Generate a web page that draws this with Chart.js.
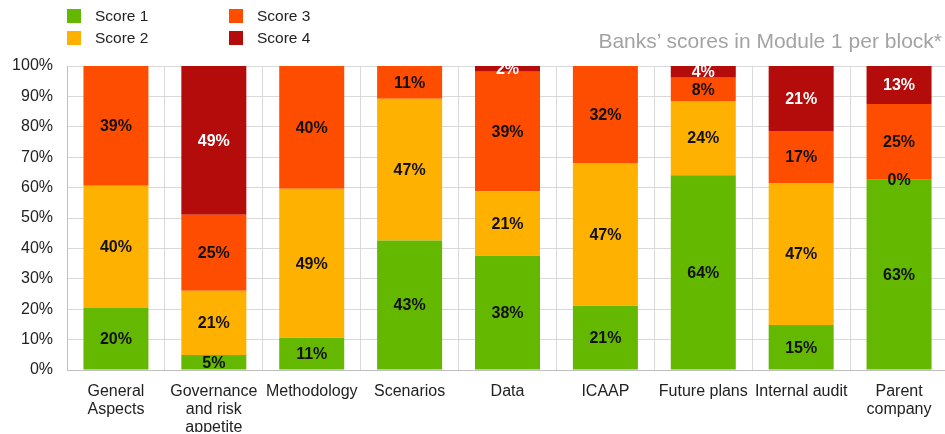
<!DOCTYPE html>
<html>
<head>
<meta charset="utf-8">
<script src="https://cdn.jsdelivr.net/npm/chart.js@4/dist/chart.umd.min.js"></script>
<style>
  html, body { margin: 0; padding: 0; background: #fff; overflow: hidden; }
  #wrap { position: relative; width: 945px; height: 434px; overflow: hidden; }
  #plot { position: absolute; left: 0; top: 0; width: 948px; height: 434px; }
  .legend { position: absolute; font: 15.5px "Liberation Sans", Arial, sans-serif; color: #222; }
  .legend .item { position: absolute; white-space: nowrap; height: 16px; line-height: 16px; }
  .legend .box { position: absolute; left: 0; top: 1px; width: 14px; height: 14px; }
  .legend .txt { position: absolute; left: 28px; top: 0; }
  #title { position: absolute; right: 3px; top: 29px; font: 21px/24px "Liberation Sans", Arial, sans-serif; color: #a3a3a3; white-space: nowrap; }
</style>
</head>
<body>
<div id="wrap">
  <div id="plot"><canvas id="chart"></canvas></div>
  <div class="legend" id="legend"></div>
  <div id="title">Banks’ scores in Module 1 per block*</div>
</div>
<script>
const categories = [
  ['General', 'Aspects'],
  ['Governance', 'and risk', 'appetite'],
  'Methodology',
  'Scenarios',
  'Data',
  'ICAAP',
  'Future plans',
  'Internal audit',
  ['Parent', 'company']
];
const score1 = [20.4, 4.9, 10.6, 42.6, 37.6, 21.1, 64.1, 14.8, 62.6];
const score2 = [40.2, 21.2, 49.0, 46.6, 21.2, 47.0, 24.4, 46.7, 0];
const score3 = [39.4, 25.0, 40.4, 10.8, 39.3, 31.9, 7.6, 17.1, 24.9];
const score4 = [0, 48.9, 0, 0, 1.9, 0, 3.9, 21.4, 12.5];
const yTicks = [0, 10, 20, 30, 40, 50, 60, 70, 80, 90, 100];

const seriesNames = ['Score 1', 'Score 2', 'Score 3', 'Score 4'];
const colors = ['#64b800', '#ffb100', '#ff4d00', '#b40b0b'];
const series = [score1, score2, score3, score4];
const fontFamily = '"Liberation Sans", Arial, sans-serif';

// legend, two columns like the original
const legend = document.getElementById('legend');
const legendPos = [[67, 8], [67, 30], [229, 8], [229, 30]];
seriesNames.forEach((name, i) => {
  const item = document.createElement('div');
  item.className = 'item';
  item.style.left = legendPos[i][0] + 'px';
  item.style.top = legendPos[i][1] + 'px';
  item.innerHTML = '<span class="box" style="background:' + colors[i] + '"></span><span class="txt">' + name + '</span>';
  legend.appendChild(item);
});

// value labels in the middle of each segment
const segmentLabels = {
  id: 'segmentLabels',
  afterDatasetsDraw(chart) {
    const ctx = chart.ctx;
    ctx.save();
    ctx.font = 'bold 16px ' + fontFamily;
    ctx.textAlign = 'center';
    ctx.textBaseline = 'middle';
    chart.data.datasets.forEach((ds, di) => {
      const meta = chart.getDatasetMeta(di);
      meta.data.forEach((bar, i) => {
        const v = ds.data[i];
        if (di !== 1 && !v) return;
        ctx.fillStyle = di === 3 ? '#fff' : '#111';
        ctx.fillText(Math.round(v) + '%', bar.x, (bar.y + bar.base) / 2 + 1);
      });
    });
    ctx.restore();
  }
};

new Chart(document.getElementById('chart'), {
  type: 'bar',
  data: {
    labels: categories,
    datasets: series.map((d, i) => ({
      label: seriesNames[i],
      data: d,
      backgroundColor: colors[i],
      borderWidth: 0,
      categoryPercentage: 1,
      barPercentage: 0.664
    }))
  },
  options: {
    responsive: true,
    maintainAspectRatio: false,
    animation: false,
    layout: { padding: { left: 13, right: 0, top: 66, bottom: 2 } },
    plugins: {
      legend: { display: false },
      tooltip: { enabled: false }
    },
    scales: {
      x: {
        stacked: true,
        grid: { color: '#d9d9d9', offset: true, drawTicks: false },
        border: { color: '#bfbfbf' },
        afterFit(scale) {
          scale.paddingLeft = 0;
          scale.paddingRight = 0;
          scale.height = 62;
        },
        ticks: {
          color: '#222',
          padding: 12,
          maxRotation: 0,
          autoSkip: false,
          font: { family: fontFamily, size: 16, lineHeight: 1.15 }
        }
      },
      y: {
        stacked: true,
        min: 0,
        max: 100,
        afterBuildTicks(axis) { axis.ticks = yTicks.map(v => ({ value: v })); },
        afterFit(scale) {
          scale.width = 54;
          scale.paddingTop = 0;
          scale.paddingBottom = 0;
        },
        grid: { color: '#d9d9d9', drawTicks: false },
        border: { color: '#bfbfbf' },
        ticks: {
          color: '#222',
          padding: 14,
          callback: v => v + '%',
          font: { family: fontFamily, size: 16 }
        }
      }
    }
  },
  plugins: [segmentLabels]
});
</script>
</body>
</html>
